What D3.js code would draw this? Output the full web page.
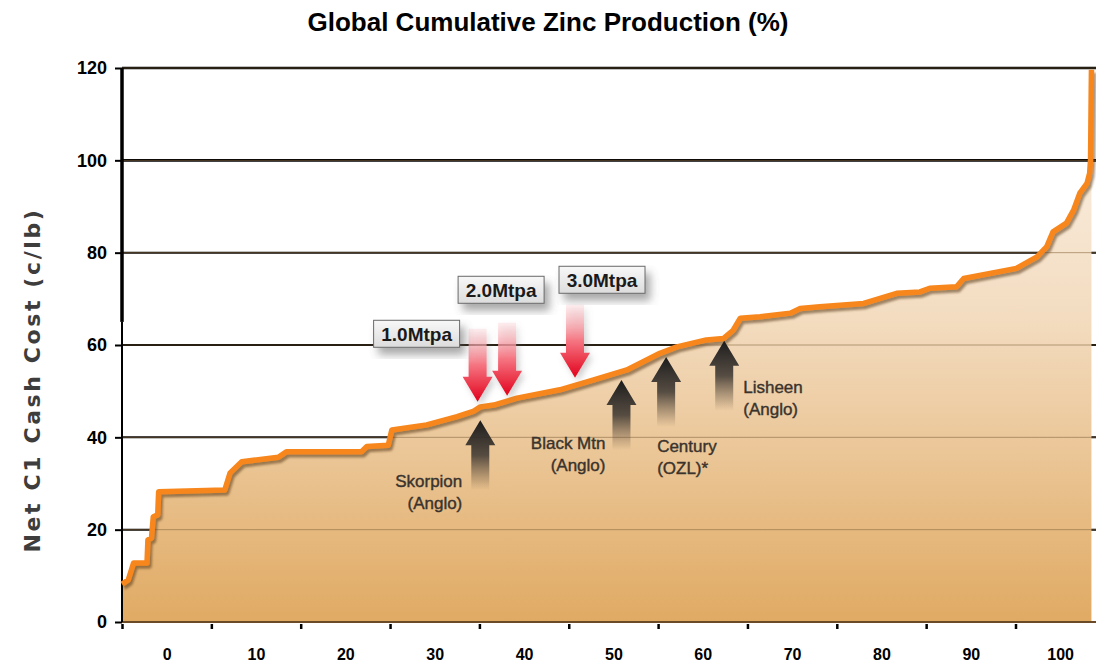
<!DOCTYPE html>
<html>
<head>
<meta charset="utf-8">
<script src="https://cdn.jsdelivr.net/npm/d3@7"></script>
<style>
  html, body { margin: 0; padding: 0; background: #fff; }
  svg { display: block; font-family: "Liberation Sans", Arial, sans-serif; }
</style>
</head>
<body>
<svg id="chart" width="1096" height="665"></svg>
<script>
// --- data ---
var xTickValues = [0, 10, 20, 30, 40, 50, 60, 70, 80, 90, 100];
var xTickLabels = ["0", "10", "20", "30", "40", "50", "60", "70", "80", "90", "100"];
var yTickValues = [0, 20, 40, 60, 80, 100, 120];

// cumulative production (%) and cash cost (c/lb) along the cost curve
var cumProd = [0, 0.7, 1.3, 2.8, 2.9, 3.3, 3.5, 4.0, 4.1, 11.5, 12.1, 13.4, 17.5, 18.4, 21.6,
  26.8, 27.4, 29.8, 30.2, 34.1, 37.5, 39.3, 40.1, 41.6, 44.2, 49.0, 52.7, 56.5, 60.2, 62.1,
  65.4, 67.3, 68.4, 69.2, 71.4, 74.8, 75.9, 78.1, 83.0, 86.7, 89.3, 90.4, 93.4, 94.2, 100.1,
  102.4, 103.5, 104.2, 105.7, 106.5, 107.2, 108.0, 108.3, 108.4, 108.5];
var cashCost = [8.2, 9.1, 12.8, 12.8, 17.8, 18.2, 22.8, 23.2, 28.2, 28.6, 32.3, 34.7, 35.7, 36.9, 36.9,
  36.9, 38.0, 38.3, 41.6, 42.7, 44.5, 45.6, 46.6, 47.0, 48.5, 50.3, 52.4, 54.6, 58.2, 59.6,
  61.1, 61.4, 63.2, 65.8, 66.1, 66.9, 67.9, 68.3, 69.0, 71.2, 71.5, 72.3, 72.6, 74.4, 76.6,
  79.1, 81.3, 84.5, 86.4, 89.2, 92.9, 95.0, 97.2, 100.1, 119.6];

// capacity scenarios (red arrows pointing down onto the curve)
var mtpaNames = ["1.0Mtpa", "2.0Mtpa", "3.0Mtpa"];
var mtpaX = [39.8, 43.1, 50.7];
var mtpaY = [47.7, 49.0, 52.9];

// existing mines (dark arrows pointing up to the curve)
var mineNames = ["Skorpion", "Black Mtn", "Century", "Lisheen"];
var mineOwners = ["(Anglo)", "(Anglo)", "(OZL)*", "(Anglo)"];
var mineX = [40.1, 55.9, 60.9, 67.4];
var mineY = [43.7, 52.4, 57.4, 60.9];

// --- layout ---
var svg = d3.select("#chart");
var W = 1096, H = 665;

var x = d3.scaleLinear().domain([0, 100]).range([122, 1015.5]);
var y = d3.scaleLinear().domain([0, 120]).range([622, 68]);
var band = x(10) - x(0);

var pts = cumProd.map(function(v, i){ return [v, cashCost[i]]; });

var defs = svg.append("defs");

var fillGrad = defs.append("linearGradient")
  .attr("id", "areaFill").attr("gradientUnits", "userSpaceOnUse")
  .attr("x1", 0).attr("x2", 0).attr("y1", y(120)).attr("y2", y(0));
fillGrad.append("stop").attr("offset", "0%").attr("stop-color", "#fcf5ed");
fillGrad.append("stop").attr("offset", "45%").attr("stop-color", "#f3dcc0");
fillGrad.append("stop").attr("offset", "100%").attr("stop-color", "#e0aa63");

var redGrad = defs.append("linearGradient")
  .attr("id", "redArrow").attr("x1", 0).attr("x2", 0).attr("y1", 0).attr("y2", 1);
redGrad.append("stop").attr("offset", "0%").attr("stop-color", "#fbd3d6").attr("stop-opacity", 0.4);
redGrad.append("stop").attr("offset", "50%").attr("stop-color", "#f57480");
redGrad.append("stop").attr("offset", "100%").attr("stop-color", "#e2001c");

var darkGrad = defs.append("linearGradient")
  .attr("id", "darkArrow").attr("x1", 0).attr("x2", 0).attr("y1", 0).attr("y2", 1);
darkGrad.append("stop").attr("offset", "0%").attr("stop-color", "#1c1c1c");
darkGrad.append("stop").attr("offset", "50%").attr("stop-color", "#3b3530").attr("stop-opacity", 0.85);
darkGrad.append("stop").attr("offset", "100%").attr("stop-color", "#5a4632").attr("stop-opacity", 0);

var boxGrad = defs.append("linearGradient")
  .attr("id", "boxFill").attr("x1", 0).attr("x2", 0).attr("y1", 0).attr("y2", 1);
boxGrad.append("stop").attr("offset", "0%").attr("stop-color", "#f8f8f8");
boxGrad.append("stop").attr("offset", "100%").attr("stop-color", "#dcdcdc");

function shadow(id, dx, dy, blur, color, op){
  var f = defs.append("filter").attr("id", id)
    .attr("x", "-30%").attr("y", "-30%").attr("width", "170%").attr("height", "170%");
  f.append("feGaussianBlur").attr("in", "SourceAlpha").attr("stdDeviation", blur).attr("result", "b");
  f.append("feOffset").attr("in", "b").attr("dx", dx).attr("dy", dy).attr("result", "o");
  f.append("feFlood").attr("flood-color", color).attr("flood-opacity", op).attr("result", "c");
  f.append("feComposite").attr("in", "c").attr("in2", "o").attr("operator", "in").attr("result", "s");
  var m = f.append("feMerge");
  m.append("feMergeNode").attr("in", "s");
  m.append("feMergeNode").attr("in", "SourceGraphic");
}
shadow("lineShadow", 1.5, 2.5, 1.2, "#5a3a1a", 0.55);
shadow("boxShadow", 5, 7, 4, "#555", 0.5);
shadow("arrowShadow", 3, 4, 3, "#777", 0.35);

// title
svg.append("text")
  .attr("x", 548).attr("y", 31)
  .attr("text-anchor", "middle")
  .attr("font-size", 26).attr("font-weight", "bold")
  .attr("fill", "#000")
  .text("Global Cumulative Zinc Production (%)");

// y axis title
svg.append("text")
  .attr("transform", "translate(40," + 380 + ") rotate(-90)")
  .attr("text-anchor", "middle")
  .attr("font-family", "DejaVu Sans, sans-serif")
  .attr("font-size", 22).attr("font-weight", "bold")
  .attr("letter-spacing", 2.6)
  .attr("fill", "#3d3d3d")
  .text("Net C1 Cash Cost (c/lb)");

// gridlines (black, under the area)
svg.append("g").selectAll("line")
  .data(yTickValues.filter(function(d){ return d > 0; }))
  .join("line")
  .attr("x1", x(0)).attr("x2", W)
  .attr("y1", function(d){ return y(d); }).attr("y2", function(d){ return y(d); })
  .attr("stroke", "#000")
  .attr("stroke-width", function(d){ return d >= 100 ? 2.6 : 2; });

// area under the curve
var area = d3.area()
  .x(function(d){ return x(d[0]); })
  .y0(y(0))
  .y1(function(d){ return y(d[1]); });
svg.append("path").datum(pts)
  .attr("d", area)
  .attr("fill", "url(#areaFill)");

// gridlines seen through the area
svg.append("g").selectAll("line")
  .data(yTickValues.filter(function(d){ return d > 0; }))
  .join("line")
  .attr("x1", x(0)).attr("x2", W)
  .attr("y1", function(d){ return y(d); }).attr("y2", function(d){ return y(d); })
  .attr("stroke", "#8a6a45").attr("stroke-opacity", 0.6)
  .attr("stroke-width", 1);

// x axis
var xAxis = d3.axisBottom(x)
  .tickValues(xTickValues)
  .tickSize(7)
  .tickFormat(function(d, i){ return xTickLabels[i]; });
var gx = svg.append("g").attr("transform", "translate(0," + y(0) + ")").call(xAxis);
gx.select(".domain").remove();
gx.selectAll(".tick line").attr("stroke", "#000").attr("stroke-width", 2.5).attr("y1", 2);
gx.selectAll(".tick text")
  .attr("x", band / 2).attr("y", 38).attr("dy", 0)
  .attr("font-family", "Liberation Sans, Arial, sans-serif")
  .attr("font-size", 16).attr("font-weight", "bold").attr("fill", "#000");
svg.append("line")
  .attr("x1", x(0)).attr("x2", W).attr("y1", y(0)).attr("y2", y(0))
  .attr("stroke", "#6b4a28").attr("stroke-width", 2);

// y axis
var yAxis = d3.axisLeft(y).tickValues(yTickValues).tickSize(7).tickPadding(8);
var gy = svg.append("g").attr("transform", "translate(" + x(0) + ",0)").call(yAxis);
gy.select(".domain").remove();
gy.selectAll(".tick line").attr("stroke", "#000").attr("stroke-width", 2);
gy.selectAll(".tick text")
  .attr("font-family", "Liberation Sans, Arial, sans-serif")
  .attr("font-size", 18).attr("font-weight", "bold").attr("fill", "#000");
svg.append("line")
  .attr("x1", x(0)).attr("x2", x(0)).attr("y1", y(120)).attr("y2", y(65))
  .attr("stroke", "#000").attr("stroke-width", 3.5);
svg.append("line")
  .attr("x1", x(0)).attr("x2", x(0)).attr("y1", y(65)).attr("y2", y(0))
  .attr("stroke", "#000").attr("stroke-width", 2);

// the cost curve
svg.append("path").datum(pts)
  .attr("d", d3.line().x(function(d){ return x(d[0]); }).y(function(d){ return y(d[1]); }))
  .attr("fill", "none")
  .attr("stroke", "#f7861c").attr("stroke-width", 5.5)
  .attr("stroke-linejoin", "round")
  .attr("filter", "url(#lineShadow)");

// arrow shape with tip at (0,0); dir = 1 points down, dir = -1 points up
function arrowPath(len, dir){
  var sw = 9, hw = 15, hl = 25;
  var p = [[-sw, -len], [sw, -len], [sw, -hl], [hw, -hl], [0, 0], [-hw, -hl], [-sw, -hl]];
  return "M" + p.map(function(q){ return q[0] + "," + (q[1] * dir); }).join("L") + "Z";
}

// dark arrows + mine labels
var mineLabelDx = [-18, -16, -9, 19];
var mineLabelDy = [67, 69, 95, 52];
var mineAnchor = ["end", "end", "start", "start"];
var mines = svg.append("g").selectAll("g")
  .data(mineNames)
  .join("g")
  .attr("transform", function(d, i){ return "translate(" + x(mineX[i]) + "," + y(mineY[i]) + ")"; });
mines.append("path")
  .attr("d", arrowPath(70, -1))
  .attr("fill", "url(#darkArrow)");
mines.each(function(d, i){
  var t = d3.select(this).append("text")
    .attr("text-anchor", mineAnchor[i])
    .attr("font-size", 17)
    .attr("fill", "#3a332d")
    .attr("stroke", "#3a332d").attr("stroke-width", 0.4);
  t.append("tspan").attr("x", mineLabelDx[i]).attr("y", mineLabelDy[i]).text(d);
  t.append("tspan").attr("x", mineLabelDx[i]).attr("y", mineLabelDy[i] + 22).text(mineOwners[i]);
});

// red arrows + capacity boxes
var boxCx = [-61, -6, 27];
var boxCy = [-68, -106, -98];
var mtpa = svg.append("g").selectAll("g")
  .data(mtpaNames)
  .join("g")
  .attr("transform", function(d, i){ return "translate(" + x(mtpaX[i]) + "," + y(mtpaY[i]) + ")"; });
mtpa.append("path")
  .attr("d", arrowPath(73, 1))
  .attr("fill", "url(#redArrow)")
  .attr("filter", "url(#arrowShadow)");
mtpa.append("rect")
  .attr("x", function(d, i){ return boxCx[i] - 43; })
  .attr("y", function(d, i){ return boxCy[i] - 13.5; })
  .attr("width", 86).attr("height", 27)
  .attr("fill", "url(#boxFill)")
  .attr("stroke", "#6a6a6a").attr("stroke-width", 1)
  .attr("filter", "url(#boxShadow)");
mtpa.append("text")
  .attr("x", function(d, i){ return boxCx[i]; })
  .attr("y", function(d, i){ return boxCy[i] + 7; })
  .attr("text-anchor", "middle")
  .attr("font-size", 19).attr("font-weight", "bold")
  .attr("fill", "#1a1a1a")
  .text(function(d){ return d; });
</script>
</body>
</html>
